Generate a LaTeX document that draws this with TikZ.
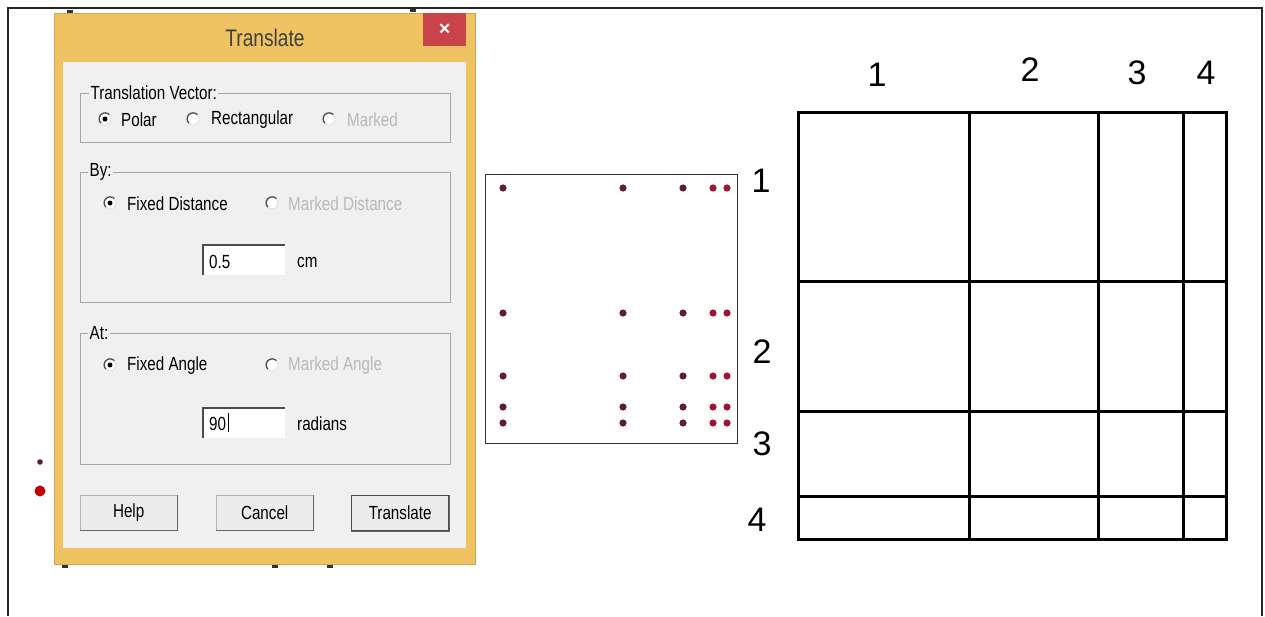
\documentclass[tikz,border=0pt]{standalone}
\usepackage{fontspec}
\setmainfont{Liberation Sans}
\newfontfamily\dlgfont[FakeStretch=0.8]{Liberation Sans}
\usetikzlibrary{arrows}

\definecolor{winyellow}{HTML}{EFC362}
\definecolor{winpanel}{HTML}{F0F0F0}
\definecolor{winclose}{HTML}{C9434B}
\definecolor{dotdark}{HTML}{5E1F33}
\definecolor{dotred}{HTML}{9E1535}

\tikzset{
  groupbox/.style = {rectangle, draw = gray!70, line width = 1.2pt,
                     anchor = north west},
  grouplabel/.style = {fill = winpanel, inner sep = 1.5pt, anchor = west,
                       font = \dlgfont\fontsize{19}{19}\selectfont},
  dlgtext/.style = {anchor = west, inner sep = 0pt,
                    font = \dlgfont\fontsize{19}{19}\selectfont},
  offtext/.style = {dlgtext, text = gray!55},
  radiobox/.style = {circle, draw = gray!40, fill = white,
                     minimum size = 12pt, inner sep = 0pt},
  editbox/.style = {rectangle, fill = white, anchor = north west,
                    minimum width = 82, minimum height = 30},
  button/.style = {rectangle, draw = gray!60, fill = gray!15,
                   anchor = north west, minimum width = 97,
                   minimum height = 35,
                   font = \dlgfont\fontsize{19}{19}\selectfont},
  bignum/.style = {font = \fontsize{34}{34}\selectfont}
}

\begin{document}
\begin{tikzpicture}[x=1pt,y=-1pt]

    \useasboundingbox (0,0) rectangle (1265,616);

    % open frame round everything
    \draw[black!85, line width = 1.2pt] (8,616) -- (8,8) -- (1262,8)
        -- (1262,616);

    % bits of the page behind the dialog
    \foreach \x/\y in {70/11, 413/10, 65/566, 275/566, 330/566}
        \fill[black!80] (\x-3,\y-1) rectangle (\x+3,\y+1.5);

    % the dialog window
    \node[rectangle,
          draw = winyellow!85!black,
          fill = winyellow,
          minimum width = 421,
          minimum height = 551,
          anchor = north west
          ] (dlg) at (54,13) {};

    \node[rectangle,
          fill = winpanel,
          minimum width = 403,
          minimum height = 486,
          anchor = north west
          ] (panel) at (63,62) {};

    \node[rectangle,
          fill = winclose,
          minimum width = 43,
          minimum height = 33,
          anchor = north west
          ] (close) at (423,13) {};
    \node[text = white, font = \bfseries\fontsize{20}{20}\selectfont]
        at (close.center) {×};

    \node[text = black!75, font = \dlgfont\fontsize{24}{24}\selectfont]
        (title) at (265,38) {Translate};

    % Translation Vector group
    \node[groupbox, minimum width = 370, minimum height = 49]
        (vecbox) at (80,93) {};
    \node[grouplabel] at (89,93) {Translation Vector:};

    \node[radiobox] (polar) at (105,119) {};
    \node[radiobox] (rect) at (193,119) {};
    \node[radiobox] (marked) at (329,119) {};
    \node[dlgtext] at (121,120) {Polar};
    \node[dlgtext] at (211,120) {Rectangular};
    \node[offtext] at (347,120) {Marked};

    % By group
    \node[groupbox, minimum width = 370, minimum height = 130]
        (bybox) at (80,172) {};
    \node[grouplabel] at (88,172) {By:};

    \node[radiobox] (fixdist) at (110,203) {};
    \node[radiobox] (markdist) at (272,203) {};
    \node[dlgtext] at (127,204) {Fixed Distance};
    \node[offtext] at (288,204) {Marked Distance};

    \node[editbox] (dist) at (203,245) {};
    \node[dlgtext] at (209,262) {0.5};
    \node[dlgtext] at (297,262) {cm};

    % At group
    \node[groupbox, minimum width = 370, minimum height = 131]
        (atbox) at (80,333) {};
    \node[grouplabel] at (88,333) {At:};

    \node[radiobox] (fixang) at (110,365) {};
    \node[radiobox] (markang) at (272,365) {};
    \node[dlgtext] at (127,366) {Fixed Angle};
    \node[offtext] at (288,366) {Marked Angle};

    \node[editbox] (angle) at (203,408) {};
    \node[dlgtext] at (209,424) {90};
    \node[dlgtext] at (297,424) {radians};

    % sunken edges of the radios and the edit boxes
    \foreach \r in {polar, rect, marked, fixdist, markdist, fixang, markang}
        \draw[black!70, line width = 1.3pt]
            (\r.45) arc[start angle = 45, end angle = 225, radius = 6pt];
    \foreach \r in {polar, fixdist, fixang}
        \fill[black] (\r.center) circle (2.5pt);
    \foreach \b in {dist, angle}
        \draw[black!70, line width = 1.5pt]
            (\b.south west) -- (\b.north west) -- (\b.north east);
    \draw[black, line width = 1pt] (228,413) -- (228,432);

    % buttons
    \node[button] (help) at (80,495) {Help};
    \node[button] (cancel) at (216,495) {Cancel};
    \node[button, draw = black!70, line width = 1.3pt] (go) at (351,495)
        {Translate};
    \foreach \b in {help, cancel, go}
        \draw[black!60, line width = 1.5pt]
            (\b.south west) -- (\b.south east) -- (\b.north east);

    % dots left of the dialog
    \fill[dotdark] (40,462) circle (2.8pt);
    \fill[red!75!black] (40,491) circle (5.5pt);

    % the square of points
    \node[rectangle,
          draw = black!80,
          line width = 1.2pt,
          minimum width = 252,
          minimum height = 269,
          anchor = north west
          ] (pts) at (485,174) {};

    \foreach \y in {188, 313, 376, 407, 423} {
        \foreach \x in {503, 623, 683}
            \fill[dotdark] (\x,\y) circle (3.6pt);
        \foreach \x in {713, 727}
            \fill[dotred] (\x,\y) circle (3.6pt);
    }

    \node[bignum] (r1) at (761,181) {1};
    \node[bignum] (r2) at (762,352) {2};
    \node[bignum] (r3) at (762,444) {3};
    \node[bignum] (r4) at (757,520) {4};

    % the grid
    \foreach \x in {798, 969, 1098, 1183, 1226}
        \draw[line width = 3pt] (\x,111) -- (\x,541);
    \foreach \y in {112, 281, 411, 496, 539}
        \draw[line width = 3pt] (797,\y) -- (1228,\y);

    \node[bignum] (c1) at (877,75) {1};
    \node[bignum] (c2) at (1030,70) {2};
    \node[bignum] (c3) at (1137,73) {3};
    \node[bignum] (c4) at (1206,73) {4};

\end{tikzpicture}
\end{document}
